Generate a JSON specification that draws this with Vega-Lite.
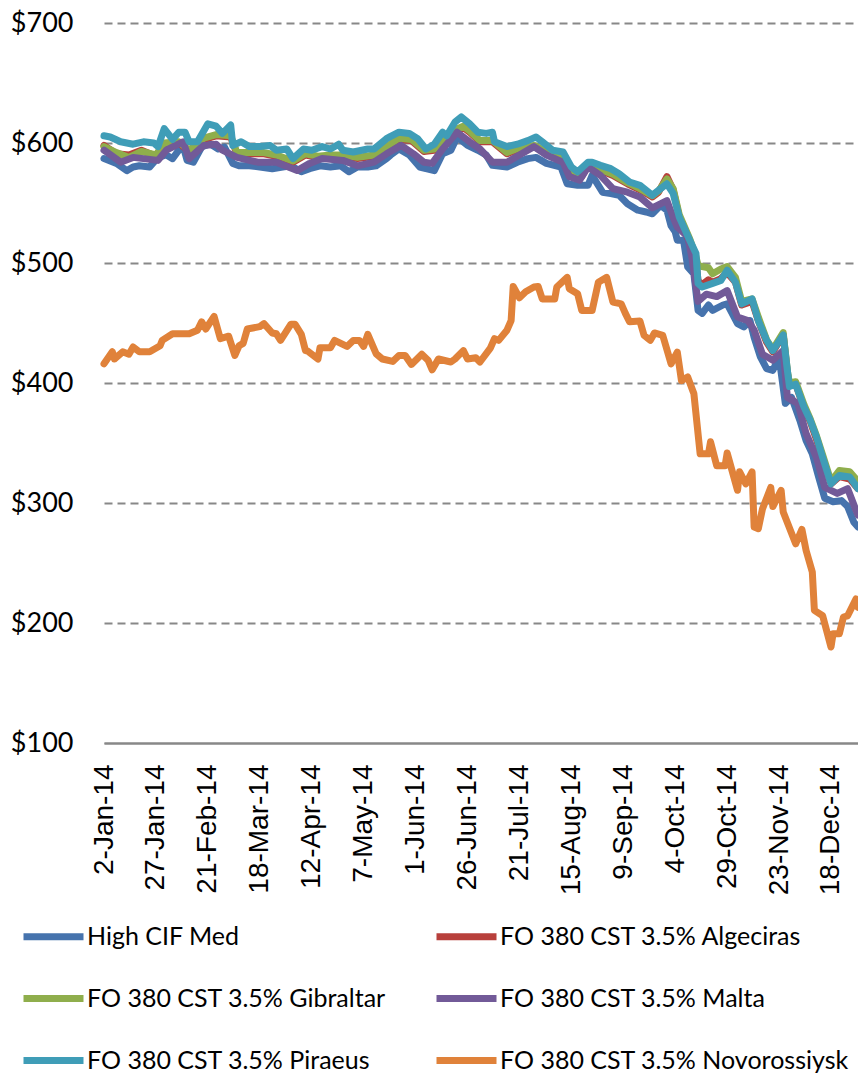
{
  "$schema": "https://vega.github.io/schema/vega-lite/v6.json",
  "autosize": {"type": "none"},
  "width": 754,
  "height": 720,
  "padding": {"left": 104, "top": 23, "right": 0, "bottom": 333},
  "background": "white",
  "config": {
    "view": {"stroke": null},
    "line": {"strokeWidth": 7, "strokeCap": "round", "strokeJoin": "round", "clip": true}
  },
  "datasets": {
    "blue": [
      {"date": "2014-01-02", "price": 587}, {"date": "2014-01-08", "price": 583}, {"date": "2014-01-13", "price": 577},
      {"date": "2014-01-16", "price": 580}, {"date": "2014-01-19", "price": 581}, {"date": "2014-01-24", "price": 580},
      {"date": "2014-01-28", "price": 588}, {"date": "2014-02-01", "price": 590}, {"date": "2014-02-04", "price": 587},
      {"date": "2014-02-07", "price": 594}, {"date": "2014-02-09", "price": 598}, {"date": "2014-02-11", "price": 585.5},
      {"date": "2014-02-14", "price": 584}, {"date": "2014-02-18", "price": 596.7}, {"date": "2014-02-22", "price": 599.4},
      {"date": "2014-02-26", "price": 595}, {"date": "2014-03-01", "price": 596.7}, {"date": "2014-03-05", "price": 583},
      {"date": "2014-03-08", "price": 581}, {"date": "2014-03-13", "price": 581}, {"date": "2014-03-18", "price": 580},
      {"date": "2014-03-24", "price": 578.6}, {"date": "2014-03-29", "price": 580}, {"date": "2014-04-02", "price": 581},
      {"date": "2014-04-07", "price": 576}, {"date": "2014-04-11", "price": 578.6}, {"date": "2014-04-16", "price": 581},
      {"date": "2014-04-21", "price": 580}, {"date": "2014-04-26", "price": 581}, {"date": "2014-04-30", "price": 576},
      {"date": "2014-05-04", "price": 580}, {"date": "2014-05-09", "price": 580}, {"date": "2014-05-13", "price": 581},
      {"date": "2014-05-18", "price": 587}, {"date": "2014-05-20", "price": 590}, {"date": "2014-05-24", "price": 595},
      {"date": "2014-05-29", "price": 590}, {"date": "2014-06-03", "price": 580}, {"date": "2014-06-06", "price": 578.6},
      {"date": "2014-06-10", "price": 577}, {"date": "2014-06-14", "price": 591}, {"date": "2014-06-18", "price": 594},
      {"date": "2014-06-21", "price": 605}, {"date": "2014-06-26", "price": 598}, {"date": "2014-07-01", "price": 594},
      {"date": "2014-07-05", "price": 590}, {"date": "2014-07-08", "price": 581.4}, {"date": "2014-07-15", "price": 580},
      {"date": "2014-07-20", "price": 584}, {"date": "2014-07-25", "price": 587}, {"date": "2014-07-29", "price": 588},
      {"date": "2014-08-03", "price": 583}, {"date": "2014-08-10", "price": 580}, {"date": "2014-08-13", "price": 566},
      {"date": "2014-08-18", "price": 564.7}, {"date": "2014-08-23", "price": 564.7}, {"date": "2014-08-25", "price": 573},
      {"date": "2014-08-30", "price": 559}, {"date": "2014-09-03", "price": 557.8}, {"date": "2014-09-07", "price": 556.4},
      {"date": "2014-09-11", "price": 549.4}, {"date": "2014-09-16", "price": 544}, {"date": "2014-09-20", "price": 542.5},
      {"date": "2014-09-23", "price": 541}, {"date": "2014-09-27", "price": 548}, {"date": "2014-09-30", "price": 544},
      {"date": "2014-10-02", "price": 531}, {"date": "2014-10-04", "price": 526}, {"date": "2014-10-05", "price": 519},
      {"date": "2014-10-08", "price": 519}, {"date": "2014-10-10", "price": 496.7}, {"date": "2014-10-13", "price": 491},
      {"date": "2014-10-15", "price": 460.5}, {"date": "2014-10-17", "price": 458}, {"date": "2014-10-20", "price": 465},
      {"date": "2014-10-22", "price": 460.5}, {"date": "2014-10-27", "price": 465}, {"date": "2014-10-29", "price": 466},
      {"date": "2014-11-03", "price": 449.4}, {"date": "2014-11-06", "price": 446.7}, {"date": "2014-11-09", "price": 452},
      {"date": "2014-11-11", "price": 438}, {"date": "2014-11-14", "price": 421.7}, {"date": "2014-11-17", "price": 412},
      {"date": "2014-11-20", "price": 410.5}, {"date": "2014-11-23", "price": 421.7}, {"date": "2014-11-26", "price": 383},
      {"date": "2014-11-29", "price": 388}, {"date": "2014-12-03", "price": 369}, {"date": "2014-12-06", "price": 352},
      {"date": "2014-12-09", "price": 341}, {"date": "2014-12-12", "price": 322}, {"date": "2014-12-15", "price": 304},
      {"date": "2014-12-19", "price": 301}, {"date": "2014-12-23", "price": 302}, {"date": "2014-12-26", "price": 297},
      {"date": "2014-12-29", "price": 284}, {"date": "2014-12-31", "price": 280}
    ],
    "red": [
      {"date": "2014-01-02", "price": 598}, {"date": "2014-01-08", "price": 591}, {"date": "2014-01-14", "price": 590},
      {"date": "2014-01-20", "price": 594}, {"date": "2014-01-27", "price": 589}, {"date": "2014-01-31", "price": 599},
      {"date": "2014-02-07", "price": 600}, {"date": "2014-02-12", "price": 593}, {"date": "2014-02-19", "price": 603},
      {"date": "2014-02-25", "price": 606}, {"date": "2014-03-04", "price": 605}, {"date": "2014-03-07", "price": 591},
      {"date": "2014-03-13", "price": 591}, {"date": "2014-03-20", "price": 591}, {"date": "2014-03-26", "price": 589},
      {"date": "2014-04-03", "price": 584}, {"date": "2014-04-09", "price": 590}, {"date": "2014-04-15", "price": 588},
      {"date": "2014-04-21", "price": 589}, {"date": "2014-04-27", "price": 589}, {"date": "2014-05-04", "price": 587},
      {"date": "2014-05-12", "price": 589}, {"date": "2014-05-18", "price": 596}, {"date": "2014-05-24", "price": 603},
      {"date": "2014-05-30", "price": 602}, {"date": "2014-06-05", "price": 593}, {"date": "2014-06-10", "price": 594},
      {"date": "2014-06-14", "price": 601}, {"date": "2014-06-20", "price": 610}, {"date": "2014-06-24", "price": 613},
      {"date": "2014-06-27", "price": 609}, {"date": "2014-07-02", "price": 601}, {"date": "2014-07-08", "price": 601},
      {"date": "2014-07-15", "price": 591}, {"date": "2014-07-21", "price": 595}, {"date": "2014-07-28", "price": 597},
      {"date": "2014-08-03", "price": 592}, {"date": "2014-08-10", "price": 587}, {"date": "2014-08-15", "price": 577},
      {"date": "2014-08-20", "price": 572}, {"date": "2014-08-23", "price": 581}, {"date": "2014-08-29", "price": 577},
      {"date": "2014-09-04", "price": 573}, {"date": "2014-09-11", "price": 566}, {"date": "2014-09-17", "price": 561},
      {"date": "2014-09-23", "price": 555}, {"date": "2014-09-26", "price": 559}, {"date": "2014-09-30", "price": 572},
      {"date": "2014-10-03", "price": 561}, {"date": "2014-10-06", "price": 538}, {"date": "2014-10-11", "price": 517},
      {"date": "2014-10-14", "price": 502}, {"date": "2014-10-15", "price": 485}, {"date": "2014-10-17", "price": 482},
      {"date": "2014-10-20", "price": 486}, {"date": "2014-10-22", "price": 484}, {"date": "2014-10-26", "price": 487},
      {"date": "2014-10-29", "price": 492}, {"date": "2014-11-02", "price": 484}, {"date": "2014-11-05", "price": 465},
      {"date": "2014-11-10", "price": 468}, {"date": "2014-11-13", "price": 452}, {"date": "2014-11-17", "price": 434},
      {"date": "2014-11-20", "price": 426}, {"date": "2014-11-25", "price": 440}, {"date": "2014-11-27", "price": 408},
      {"date": "2014-11-28", "price": 398}, {"date": "2014-12-01", "price": 399}, {"date": "2014-12-05", "price": 379},
      {"date": "2014-12-08", "price": 368}, {"date": "2014-12-11", "price": 353}, {"date": "2014-12-14", "price": 337},
      {"date": "2014-12-18", "price": 316}, {"date": "2014-12-22", "price": 322}, {"date": "2014-12-27", "price": 320},
      {"date": "2014-12-31", "price": 312}
    ],
    "green": [
      {"date": "2014-01-02", "price": 597}, {"date": "2014-01-08", "price": 592}, {"date": "2014-01-14", "price": 588},
      {"date": "2014-01-20", "price": 593}, {"date": "2014-01-27", "price": 590}, {"date": "2014-01-31", "price": 600},
      {"date": "2014-02-07", "price": 601}, {"date": "2014-02-12", "price": 594}, {"date": "2014-02-19", "price": 604},
      {"date": "2014-02-25", "price": 607}, {"date": "2014-03-04", "price": 606}, {"date": "2014-03-07", "price": 592},
      {"date": "2014-03-13", "price": 592}, {"date": "2014-03-20", "price": 592}, {"date": "2014-03-26", "price": 590},
      {"date": "2014-04-03", "price": 585}, {"date": "2014-04-09", "price": 591}, {"date": "2014-04-15", "price": 589},
      {"date": "2014-04-21", "price": 590}, {"date": "2014-04-27", "price": 590}, {"date": "2014-05-04", "price": 588},
      {"date": "2014-05-12", "price": 590}, {"date": "2014-05-18", "price": 597}, {"date": "2014-05-24", "price": 604},
      {"date": "2014-05-30", "price": 603}, {"date": "2014-06-05", "price": 594}, {"date": "2014-06-10", "price": 595},
      {"date": "2014-06-14", "price": 602}, {"date": "2014-06-20", "price": 611}, {"date": "2014-06-24", "price": 614},
      {"date": "2014-06-27", "price": 610}, {"date": "2014-07-02", "price": 602}, {"date": "2014-07-08", "price": 602},
      {"date": "2014-07-15", "price": 592}, {"date": "2014-07-21", "price": 596}, {"date": "2014-07-28", "price": 598},
      {"date": "2014-08-03", "price": 593}, {"date": "2014-08-10", "price": 588}, {"date": "2014-08-15", "price": 578},
      {"date": "2014-08-20", "price": 573}, {"date": "2014-08-23", "price": 582}, {"date": "2014-08-29", "price": 578},
      {"date": "2014-09-04", "price": 574}, {"date": "2014-09-11", "price": 567}, {"date": "2014-09-17", "price": 562},
      {"date": "2014-09-23", "price": 556}, {"date": "2014-09-26", "price": 560}, {"date": "2014-09-30", "price": 570},
      {"date": "2014-10-03", "price": 562}, {"date": "2014-10-06", "price": 540}, {"date": "2014-10-11", "price": 520},
      {"date": "2014-10-14", "price": 505}, {"date": "2014-10-15", "price": 498}, {"date": "2014-10-17", "price": 497},
      {"date": "2014-10-20", "price": 496}, {"date": "2014-10-22", "price": 491}, {"date": "2014-10-26", "price": 495},
      {"date": "2014-10-29", "price": 497}, {"date": "2014-11-02", "price": 488}, {"date": "2014-11-05", "price": 468},
      {"date": "2014-11-10", "price": 470}, {"date": "2014-11-13", "price": 455}, {"date": "2014-11-17", "price": 436},
      {"date": "2014-11-20", "price": 428}, {"date": "2014-11-25", "price": 442}, {"date": "2014-11-27", "price": 410},
      {"date": "2014-11-28", "price": 400}, {"date": "2014-12-01", "price": 401}, {"date": "2014-12-05", "price": 382},
      {"date": "2014-12-08", "price": 370}, {"date": "2014-12-11", "price": 356}, {"date": "2014-12-14", "price": 340},
      {"date": "2014-12-18", "price": 318}, {"date": "2014-12-22", "price": 327}, {"date": "2014-12-27", "price": 326},
      {"date": "2014-12-31", "price": 318}
    ],
    "purple": [
      {"date": "2014-01-02", "price": 594}, {"date": "2014-01-10", "price": 584}, {"date": "2014-01-16", "price": 588},
      {"date": "2014-01-28", "price": 585.5}, {"date": "2014-02-01", "price": 594}, {"date": "2014-02-09", "price": 601},
      {"date": "2014-02-12", "price": 587}, {"date": "2014-02-19", "price": 598}, {"date": "2014-02-25", "price": 599},
      {"date": "2014-02-28", "price": 594}, {"date": "2014-03-07", "price": 588}, {"date": "2014-03-17", "price": 584},
      {"date": "2014-03-26", "price": 584}, {"date": "2014-04-05", "price": 577}, {"date": "2014-04-11", "price": 583},
      {"date": "2014-04-17", "price": 587}, {"date": "2014-04-27", "price": 585.5}, {"date": "2014-05-04", "price": 581},
      {"date": "2014-05-12", "price": 584}, {"date": "2014-05-18", "price": 591}, {"date": "2014-05-25", "price": 598},
      {"date": "2014-05-31", "price": 591}, {"date": "2014-06-05", "price": 584}, {"date": "2014-06-09", "price": 583},
      {"date": "2014-06-14", "price": 595}, {"date": "2014-06-21", "price": 609}, {"date": "2014-06-27", "price": 601},
      {"date": "2014-07-02", "price": 595}, {"date": "2014-07-08", "price": 584}, {"date": "2014-07-15", "price": 584},
      {"date": "2014-07-21", "price": 590}, {"date": "2014-07-28", "price": 597}, {"date": "2014-08-03", "price": 590},
      {"date": "2014-08-11", "price": 584}, {"date": "2014-08-14", "price": 572}, {"date": "2014-08-19", "price": 569},
      {"date": "2014-08-23", "price": 580}, {"date": "2014-08-29", "price": 573}, {"date": "2014-09-04", "price": 562},
      {"date": "2014-09-11", "price": 559}, {"date": "2014-09-17", "price": 555}, {"date": "2014-09-23", "price": 546},
      {"date": "2014-09-30", "price": 552}, {"date": "2014-10-03", "price": 538}, {"date": "2014-10-05", "price": 530},
      {"date": "2014-10-10", "price": 522}, {"date": "2014-10-12", "price": 505}, {"date": "2014-10-15", "price": 468},
      {"date": "2014-10-19", "price": 474}, {"date": "2014-10-24", "price": 472}, {"date": "2014-10-29", "price": 477},
      {"date": "2014-11-03", "price": 455}, {"date": "2014-11-08", "price": 452}, {"date": "2014-11-11", "price": 444},
      {"date": "2014-11-15", "price": 424}, {"date": "2014-11-20", "price": 419}, {"date": "2014-11-25", "price": 427},
      {"date": "2014-11-27", "price": 388}, {"date": "2014-12-02", "price": 383}, {"date": "2014-12-06", "price": 358},
      {"date": "2014-12-11", "price": 338}, {"date": "2014-12-15", "price": 313}, {"date": "2014-12-21", "price": 308},
      {"date": "2014-12-26", "price": 312}, {"date": "2014-12-30", "price": 294}, {"date": "2014-12-31", "price": 290}
    ],
    "teal": [
      {"date": "2014-01-02", "price": 606}, {"date": "2014-01-05", "price": 605}, {"date": "2014-01-10", "price": 601},
      {"date": "2014-01-16", "price": 599}, {"date": "2014-01-21", "price": 601}, {"date": "2014-01-26", "price": 600},
      {"date": "2014-01-28", "price": 597}, {"date": "2014-01-31", "price": 612}, {"date": "2014-02-04", "price": 603},
      {"date": "2014-02-07", "price": 609}, {"date": "2014-02-10", "price": 609}, {"date": "2014-02-12", "price": 601},
      {"date": "2014-02-16", "price": 601}, {"date": "2014-02-21", "price": 616}, {"date": "2014-02-25", "price": 614},
      {"date": "2014-02-28", "price": 608}, {"date": "2014-03-04", "price": 615}, {"date": "2014-03-05", "price": 598},
      {"date": "2014-03-09", "price": 601}, {"date": "2014-03-13", "price": 597}, {"date": "2014-03-18", "price": 597},
      {"date": "2014-03-23", "price": 598}, {"date": "2014-03-26", "price": 594}, {"date": "2014-03-31", "price": 595},
      {"date": "2014-04-03", "price": 587}, {"date": "2014-04-08", "price": 595}, {"date": "2014-04-12", "price": 594},
      {"date": "2014-04-17", "price": 597}, {"date": "2014-04-21", "price": 595}, {"date": "2014-04-25", "price": 599},
      {"date": "2014-04-27", "price": 594}, {"date": "2014-05-02", "price": 592.5}, {"date": "2014-05-09", "price": 595},
      {"date": "2014-05-12", "price": 595}, {"date": "2014-05-18", "price": 603.6}, {"date": "2014-05-20", "price": 605.5},
      {"date": "2014-05-24", "price": 609}, {"date": "2014-05-29", "price": 608}, {"date": "2014-06-02", "price": 603.6},
      {"date": "2014-06-06", "price": 595}, {"date": "2014-06-10", "price": 599}, {"date": "2014-06-14", "price": 609},
      {"date": "2014-06-16", "price": 606}, {"date": "2014-06-20", "price": 617.5}, {"date": "2014-06-23", "price": 621.7},
      {"date": "2014-06-27", "price": 616}, {"date": "2014-07-01", "price": 609}, {"date": "2014-07-05", "price": 608},
      {"date": "2014-07-08", "price": 609}, {"date": "2014-07-09", "price": 601}, {"date": "2014-07-15", "price": 597},
      {"date": "2014-07-20", "price": 599}, {"date": "2014-07-25", "price": 602}, {"date": "2014-07-29", "price": 605},
      {"date": "2014-08-01", "price": 601}, {"date": "2014-08-06", "price": 594}, {"date": "2014-08-11", "price": 592.5},
      {"date": "2014-08-15", "price": 580}, {"date": "2014-08-18", "price": 576}, {"date": "2014-08-23", "price": 584},
      {"date": "2014-08-25", "price": 584}, {"date": "2014-08-29", "price": 581.4}, {"date": "2014-09-03", "price": 578.6},
      {"date": "2014-09-07", "price": 574.4}, {"date": "2014-09-12", "price": 567.5}, {"date": "2014-09-17", "price": 564.7},
      {"date": "2014-09-20", "price": 560.6}, {"date": "2014-09-23", "price": 556.4}, {"date": "2014-09-26", "price": 560.6},
      {"date": "2014-09-30", "price": 566}, {"date": "2014-10-03", "price": 558}, {"date": "2014-10-06", "price": 538},
      {"date": "2014-10-11", "price": 519}, {"date": "2014-10-14", "price": 508}, {"date": "2014-10-15", "price": 483},
      {"date": "2014-10-17", "price": 480}, {"date": "2014-10-22", "price": 483}, {"date": "2014-10-26", "price": 485.5},
      {"date": "2014-10-29", "price": 494}, {"date": "2014-11-02", "price": 484}, {"date": "2014-11-05", "price": 466},
      {"date": "2014-11-10", "price": 470}, {"date": "2014-11-13", "price": 452}, {"date": "2014-11-17", "price": 435.5},
      {"date": "2014-11-20", "price": 427}, {"date": "2014-11-25", "price": 440}, {"date": "2014-11-27", "price": 410.5},
      {"date": "2014-11-28", "price": 397}, {"date": "2014-12-01", "price": 399}, {"date": "2014-12-05", "price": 380},
      {"date": "2014-12-08", "price": 369}, {"date": "2014-12-11", "price": 355}, {"date": "2014-12-14", "price": 338},
      {"date": "2014-12-18", "price": 316}, {"date": "2014-12-22", "price": 323}, {"date": "2014-12-27", "price": 321.7},
      {"date": "2014-12-31", "price": 312}
    ],
    "orange": [
      {"date": "2014-01-02", "price": 416}, {"date": "2014-01-06", "price": 426}, {"date": "2014-01-07", "price": 420},
      {"date": "2014-01-11", "price": 426}, {"date": "2014-01-14", "price": 424}, {"date": "2014-01-16", "price": 430},
      {"date": "2014-01-19", "price": 426}, {"date": "2014-01-24", "price": 426}, {"date": "2014-01-29", "price": 431},
      {"date": "2014-01-30", "price": 435.5}, {"date": "2014-02-04", "price": 441}, {"date": "2014-02-12", "price": 441},
      {"date": "2014-02-16", "price": 444}, {"date": "2014-02-18", "price": 451}, {"date": "2014-02-20", "price": 445},
      {"date": "2014-02-24", "price": 455.5}, {"date": "2014-02-27", "price": 437}, {"date": "2014-03-03", "price": 439},
      {"date": "2014-03-06", "price": 423}, {"date": "2014-03-08", "price": 431}, {"date": "2014-03-10", "price": 433},
      {"date": "2014-03-12", "price": 445}, {"date": "2014-03-18", "price": 447}, {"date": "2014-03-20", "price": 449.5},
      {"date": "2014-03-24", "price": 441.7}, {"date": "2014-03-26", "price": 441}, {"date": "2014-03-28", "price": 435.5},
      {"date": "2014-04-02", "price": 449}, {"date": "2014-04-04", "price": 449}, {"date": "2014-04-07", "price": 440.5},
      {"date": "2014-04-09", "price": 427}, {"date": "2014-04-10", "price": 426.7}, {"date": "2014-04-15", "price": 420},
      {"date": "2014-04-16", "price": 429.4}, {"date": "2014-04-21", "price": 429.4}, {"date": "2014-04-23", "price": 435.5},
      {"date": "2014-04-29", "price": 430.5}, {"date": "2014-05-02", "price": 435.5}, {"date": "2014-05-05", "price": 435.5},
      {"date": "2014-05-07", "price": 430.5}, {"date": "2014-05-09", "price": 440.5}, {"date": "2014-05-13", "price": 424.4},
      {"date": "2014-05-16", "price": 420}, {"date": "2014-05-21", "price": 418}, {"date": "2014-05-24", "price": 423},
      {"date": "2014-05-27", "price": 423}, {"date": "2014-05-30", "price": 415.5}, {"date": "2014-06-04", "price": 424},
      {"date": "2014-06-07", "price": 419}, {"date": "2014-06-09", "price": 411}, {"date": "2014-06-12", "price": 420},
      {"date": "2014-06-18", "price": 417.5}, {"date": "2014-06-20", "price": 420}, {"date": "2014-06-24", "price": 427},
      {"date": "2014-06-26", "price": 420}, {"date": "2014-06-30", "price": 421}, {"date": "2014-07-02", "price": 417.5},
      {"date": "2014-07-07", "price": 429}, {"date": "2014-07-09", "price": 437}, {"date": "2014-07-11", "price": 435.5},
      {"date": "2014-07-15", "price": 444}, {"date": "2014-07-17", "price": 452}, {"date": "2014-07-18", "price": 480.5},
      {"date": "2014-07-21", "price": 471}, {"date": "2014-07-24", "price": 476}, {"date": "2014-07-28", "price": 480},
      {"date": "2014-07-30", "price": 480.5}, {"date": "2014-08-01", "price": 470}, {"date": "2014-08-07", "price": 470},
      {"date": "2014-08-08", "price": 480}, {"date": "2014-08-13", "price": 488}, {"date": "2014-08-14", "price": 478.6},
      {"date": "2014-08-18", "price": 474.4}, {"date": "2014-08-20", "price": 460.5}, {"date": "2014-08-25", "price": 460.5},
      {"date": "2014-08-28", "price": 484}, {"date": "2014-09-01", "price": 488}, {"date": "2014-09-04", "price": 467.5},
      {"date": "2014-09-08", "price": 466}, {"date": "2014-09-10", "price": 458}, {"date": "2014-09-12", "price": 451},
      {"date": "2014-09-17", "price": 451.7}, {"date": "2014-09-19", "price": 439.7}, {"date": "2014-09-22", "price": 435.5},
      {"date": "2014-09-24", "price": 441.7}, {"date": "2014-09-28", "price": 439.7}, {"date": "2014-10-02", "price": 416},
      {"date": "2014-10-05", "price": 425.8}, {"date": "2014-10-07", "price": 402}, {"date": "2014-10-10", "price": 405},
      {"date": "2014-10-13", "price": 391}, {"date": "2014-10-16", "price": 341}, {"date": "2014-10-20", "price": 341},
      {"date": "2014-10-21", "price": 351}, {"date": "2014-10-24", "price": 331}, {"date": "2014-10-28", "price": 331},
      {"date": "2014-10-29", "price": 341.7}, {"date": "2014-11-03", "price": 310.6}, {"date": "2014-11-04", "price": 326},
      {"date": "2014-11-07", "price": 316}, {"date": "2014-11-10", "price": 326}, {"date": "2014-11-11", "price": 280},
      {"date": "2014-11-13", "price": 278.6}, {"date": "2014-11-15", "price": 295}, {"date": "2014-11-19", "price": 313},
      {"date": "2014-11-20", "price": 297}, {"date": "2014-11-24", "price": 310.6}, {"date": "2014-11-25", "price": 292.5},
      {"date": "2014-12-01", "price": 266}, {"date": "2014-12-04", "price": 278}, {"date": "2014-12-06", "price": 260.5},
      {"date": "2014-12-09", "price": 242.5}, {"date": "2014-12-10", "price": 210.5}, {"date": "2014-12-14", "price": 206},
      {"date": "2014-12-18", "price": 180}, {"date": "2014-12-19", "price": 191}, {"date": "2014-12-22", "price": 191},
      {"date": "2014-12-24", "price": 205}, {"date": "2014-12-26", "price": 206}, {"date": "2014-12-30", "price": 220},
      {"date": "2014-12-31", "price": 213}
    ]
  },
  "encoding": {
    "x": {
      "field": "date",
      "type": "temporal",
      "scale": {
        "type": "utc",
        "domain": [{"year": 2014, "month": 1, "date": 2, "utc": true}, {"year": 2014, "month": 12, "date": 31, "utc": true}]
      },
      "axis": {
        "title": null,
        "values": [
          {"year": 2014, "month": 1, "date": 2, "utc": true},
          {"year": 2014, "month": 1, "date": 27, "utc": true},
          {"year": 2014, "month": 2, "date": 21, "utc": true},
          {"year": 2014, "month": 3, "date": 18, "utc": true},
          {"year": 2014, "month": 4, "date": 12, "utc": true},
          {"year": 2014, "month": 5, "date": 7, "utc": true},
          {"year": 2014, "month": 6, "date": 1, "utc": true},
          {"year": 2014, "month": 6, "date": 26, "utc": true},
          {"year": 2014, "month": 7, "date": 21, "utc": true},
          {"year": 2014, "month": 8, "date": 15, "utc": true},
          {"year": 2014, "month": 9, "date": 9, "utc": true},
          {"year": 2014, "month": 10, "date": 4, "utc": true},
          {"year": 2014, "month": 10, "date": 29, "utc": true},
          {"year": 2014, "month": 11, "date": 23, "utc": true},
          {"year": 2014, "month": 12, "date": 18, "utc": true}
        ],
        "labelExpr": "utcFormat(datum.value, '%-d-%b-%y')",
        "labelAngle": -90,
        "labelAlign": "right",
        "labelBaseline": "middle",
        "labelFont": "Liberation Sans",
        "labelFontSize": 28,
        "labelColor": "#000000",
        "labelPadding": 21,
        "labelOverlap": false,
        "labelBound": false,
        "labelFlush": false,
        "ticks": false,
        "grid": false,
        "domainColor": "#888888",
        "domainWidth": 2
      }
    },
    "y": {
      "field": "price",
      "type": "quantitative",
      "scale": {"domain": [100, 700], "nice": false, "zero": false},
      "axis": {
        "title": null,
        "values": [100, 200, 300, 400, 500, 600, 700],
        "format": "$.0f",
        "labelFont": "Lato",
        "labelFontSize": 27,
        "labelColor": "#000000",
        "labelPadding": 31,
        "ticks": false,
        "domain": false,
        "grid": true,
        "gridColor": "#888888",
        "gridWidth": 2,
        "gridDash": {"condition": {"test": "datum.value == 100", "value": []}, "value": [8, 5]}
      }
    }
  },
  "layer": [
    {
      "data": {"name": "blue"},
      "mark": {"type": "line"},
      "encoding": {
        "color": {
          "datum": "High CIF Med",
          "type": "nominal",
          "scale": {
            "domain": ["High CIF Med", "FO 380 CST 3.5% Algeciras", "FO 380 CST 3.5% Gibraltar", "FO 380 CST 3.5% Malta", "FO 380 CST 3.5% Piraeus", "FO 380 CST 3.5% Novorossiysk"],
            "range": ["#4673AD", "#B8403C", "#8FAE4C", "#725A98", "#3F9DB7", "#E0823A"]
          },
          "legend": {
            "title": null,
            "orient": "none",
            "legendX": -84,
            "legendY": 880,
            "direction": "horizontal",
            "columns": 2,
            "symbolType": "stroke",
            "symbolSize": 3600,
            "symbolStrokeWidth": 7,
            "labelFont": "Lato",
            "labelFontSize": 25,
            "labelColor": "#000000",
            "labelLimit": 500,
            "labelOffset": 0,
            "rowPadding": 15,
            "columnPadding": 47,
            "padding": 0
          }
        }
      }
    },
    {"data": {"name": "red"}, "mark": {"type": "line"}, "encoding": {"color": {"datum": "FO 380 CST 3.5% Algeciras", "type": "nominal"}}},
    {"data": {"name": "green"}, "mark": {"type": "line"}, "encoding": {"color": {"datum": "FO 380 CST 3.5% Gibraltar", "type": "nominal"}}},
    {"data": {"name": "purple"}, "mark": {"type": "line"}, "encoding": {"color": {"datum": "FO 380 CST 3.5% Malta", "type": "nominal"}}},
    {"data": {"name": "teal"}, "mark": {"type": "line"}, "encoding": {"color": {"datum": "FO 380 CST 3.5% Piraeus", "type": "nominal"}}},
    {"data": {"name": "orange"}, "mark": {"type": "line"}, "encoding": {"color": {"datum": "FO 380 CST 3.5% Novorossiysk", "type": "nominal"}}}
  ]
}
